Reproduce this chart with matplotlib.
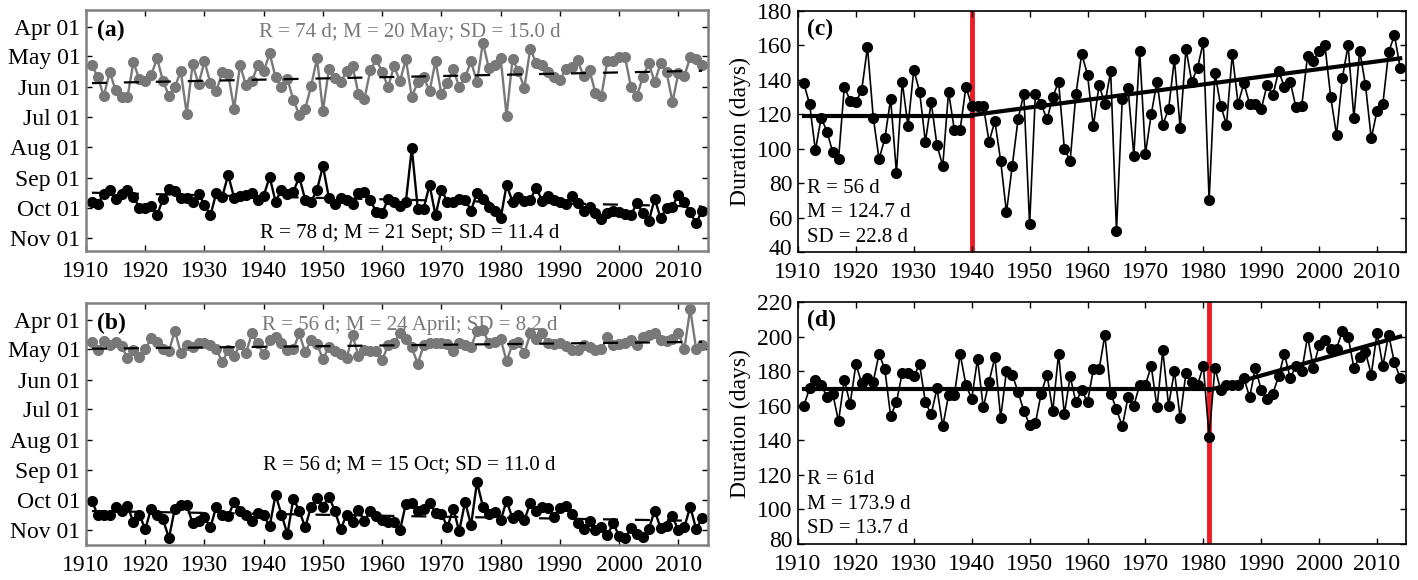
import matplotlib
matplotlib.use('Agg')
import matplotlib.pyplot as plt
from matplotlib import transforms

plt.rcParams['font.family'] = 'Liberation Serif'
plt.rcParams['lines.scale_dashes'] = False

years = list(range(1911, 2015))

# panel (a): start / end of the season, day of year
a_start = [130, 142, 161, 137, 155, 162, 162, 127, 144, 146,
           140, 123, 146, 161, 152, 136, 179, 129, 149, 126,
           148, 156, 137, 139, 174, 130, 150, 146, 130, 136,
           118, 142, 152, 144, 165, 180, 174, 151, 123, 176,
           134, 143, 147, 136, 131, 159, 164, 135, 124, 137,
           152, 131, 146, 124, 162, 147, 142, 156, 126, 159,
           148, 134, 152, 142, 126, 147, 107, 133, 130, 123,
           181, 124, 136, 153, 113, 128, 130, 137, 142, 145,
           134, 132, 125, 141, 135, 158, 161, 126, 126, 122,
           122, 152, 161, 142, 128, 147, 128, 137, 167, 138,
           141, 122, 124, 130]
a_end = [268, 270, 260, 256, 265, 260, 256, 263, 274, 274,
         272, 282, 265, 255, 257, 264, 264, 268, 260, 271,
         282, 259, 263, 241, 264, 262, 261, 259, 266, 262,
         243, 268, 256, 260, 258, 243, 266, 268, 256, 232,
         264, 270, 264, 266, 270, 259, 258, 266, 279, 280,
         265, 268, 272, 268, 214, 275, 275, 251, 282, 256,
         268, 268, 265, 266, 277, 259, 265, 273, 277, 285,
         251, 268, 263, 267, 266, 254, 267, 262, 266, 268,
         270, 262, 269, 278, 273, 280, 286, 280, 277, 279,
         281, 282, 269, 280, 288, 265, 285, 274, 273, 261,
         268, 279, 290, 277]

# panel (b)
b_start = [114, 122, 113, 117, 114, 118, 130, 122, 129, 121,
           110, 114, 121, 123, 102, 125, 117, 119, 115, 115,
           117, 121, 134, 122, 128, 116, 125, 105, 115, 126,
           112, 109, 115, 122, 121, 105, 124, 112, 116, 131,
           119, 123, 126, 130, 107, 128, 122, 123, 123, 132,
           117, 115, 104, 111, 119, 136, 117, 115, 115, 115,
           116, 123, 115, 117, 119, 102, 101, 115, 114, 111,
           133, 116, 114, 125, 105, 111, 105, 115, 116, 115,
           118, 122, 122, 117, 119, 122, 121, 109, 117, 116,
           115, 112, 117, 109, 107, 104, 112, 113, 111, 104,
           121, 80, 121, 117]
b_end = [275, 290, 290, 290, 281, 285, 280, 297, 289, 304,
         283, 290, 294, 313, 283, 279, 279, 298, 296, 292,
         302, 281, 290, 291, 276, 285, 290, 296, 287, 290,
         301, 269, 289, 309, 273, 285, 302, 281, 272, 281,
         271, 285, 304, 289, 297, 284, 296, 285, 291, 295,
         297, 297, 305, 278, 277, 285, 283, 277, 287, 288,
         302, 283, 306, 276, 300, 256, 281, 288, 286, 295,
         275, 293, 290, 295, 277, 285, 281, 282, 292, 282,
         280, 288, 298, 304, 296, 305, 302, 310, 298, 311,
         313, 303, 309, 312, 304, 285, 303, 301, 291, 305,
         302, 281, 304, 293]

# panel (c): duration, days
c_dur = [138, 126, 99, 118, 110, 98, 94, 136, 128, 127,
         134, 159, 118, 94, 106, 129, 86, 139, 113, 146,
         133, 104, 127, 102, 90, 133, 111, 111, 136, 125,
         125, 125, 104, 116, 93, 63, 90, 117, 132, 56,
         132, 126, 117, 130, 139, 100, 93, 132, 155, 143,
         113, 137, 126, 145, 52, 129, 135, 96, 157, 97,
         120, 139, 114, 123, 152, 112, 158, 139, 147, 162,
         70, 144, 125, 114, 155, 126, 138, 126, 126, 123,
         137, 131, 145, 136, 139, 124, 125, 154, 151, 157,
         160, 130, 108, 141, 160, 118, 157, 137, 106, 122,
         126, 156, 166, 147]

# panel (d)
d_dur = [160, 170, 175, 172, 165, 167, 151, 175, 161, 184,
         173, 176, 174, 190, 181, 154, 162, 179, 179, 177,
         184, 162, 155, 170, 148, 166, 166, 190, 172, 164,
         187, 159, 174, 188, 153, 180, 178, 168, 157, 149,
         150, 167, 178, 157, 190, 155, 177, 162, 169, 162,
         181, 181, 201, 167, 158, 148, 165, 160, 172, 172,
         183, 159, 192, 160, 180, 153, 179, 174, 172, 183,
         142, 182, 169, 172, 172, 172, 176, 165, 182, 169,
         164, 167, 177, 190, 176, 183, 180, 200, 182, 195,
         198, 193, 193, 203, 200, 182, 188, 191, 178, 202,
         183, 201, 185, 176]

# trend lines
trend_years = [1911, 2014]
a_start_trend = [148, 135.5]
a_end_trend = [259, 273]
b_start_trend = [120.5, 113.5]
b_end_trend = [285.5, 295.5]

c_break = 1940
c_seg1 = ([1911, 1940], [119, 119])
c_seg2 = ([1940, 2014], [119.5, 152.5])
d_break = 1981
d_seg1 = ([1911, 1981], [169.5, 169.5])
d_seg2 = ([1981, 2014], [169, 200])

month_doy = [91, 121, 152, 182, 213, 244, 274, 305]
month_labels = ['Apr 01', 'May 01', 'Jun 01', 'Jul 01',
                'Aug 01', 'Sep 01', 'Oct 01', 'Nov 01']
decades = list(range(1910, 2011, 10))

GRAY = '#787878'
W, H = 1418, 580
fig = plt.figure(figsize=(W / 100, H / 100), dpi=100)


def rect(left, top, right, bottom):
    return [left / W, 1 - bottom / H, (right - left) / W, (bottom - top) / H]


def style(ax, frame_color, frame_lw):
    ax.set_xlim(1910, 2015)
    ax.set_xticks(decades)
    ax.tick_params(direction='in', length=4, width=1, top=True, right=True,
                   labelsize=17)
    ax.tick_params(axis='x', pad=7)
    ax.tick_params(axis='y', pad=4)
    for s in ax.spines.values():
        s.set_color(frame_color)
        s.set_linewidth(frame_lw)


def date_panel(r, start, end, st_trend, en_trend, ylim, tag,
               top_txt, bot_txt, bot_y):
    ax = fig.add_axes(r)
    ax.plot(years, start, color=GRAY, lw=1.7, marker='o', ms=7)
    ax.plot(years, end, color='black', lw=1.7, marker='o', ms=7)
    ax.plot(trend_years, st_trend, color='black', lw=1.6, dashes=[10.8, 12.2])
    ax.plot(trend_years, en_trend, color='black', lw=1.6, dashes=[10.8, 12.2])
    ax.set_ylim(*ylim)
    ax.set_yticks(month_doy)
    ax.set_yticklabels(month_labels)
    style(ax, '#808080', 1.8)
    ax.text(0.018, 0.915, tag, transform=ax.transAxes, fontsize=17,
            fontweight='bold', va='center', ha='left')
    ax.text(0.52, 0.905, top_txt, transform=ax.transAxes, fontsize=15,
            color=GRAY, va='center', ha='center')
    ax.text(0.52, bot_y, bot_txt, transform=ax.transAxes, fontsize=15,
            va='center', ha='center')
    return ax


def dur_panel(r, dur, seg1, seg2, brk, ylim, yticks, tag, lines):
    ax = fig.add_axes(r)
    ax.axvline(brk, color='#ee1c24', lw=3.5, zorder=1)
    ax.plot(years, dur, color='black', lw=1.2, marker='o', ms=7, zorder=3)
    ax.plot(seg1[0], seg1[1], color='black', lw=3, zorder=4)
    ax.plot(seg2[0], seg2[1], color='black', lw=3, zorder=4)
    ax.set_ylim(*ylim)
    ax.set_yticks(yticks)
    ax.set_ylabel('Duration (days)', fontsize=17, labelpad=4)
    style(ax, 'black', 1.2)
    # nudge the lowest y label up a little so it clears the year labels
    lowest = ax.get_yticklabels()[0]
    lowest.set_transform(lowest.get_transform() +
                         transforms.ScaledTranslation(0, 0.05, fig.dpi_scale_trans))
    ax.text(0.014, 0.925, tag, transform=ax.transAxes, fontsize=17,
            fontweight='bold', va='center', ha='left')
    for y, t in zip([0.265, 0.165, 0.062], lines):
        ax.text(0.015, y, t, transform=ax.transAxes, fontsize=15,
                va='center', ha='left')
    return ax


date_panel(rect(86, 10, 708, 251), a_start, a_end, a_start_trend, a_end_trend,
           (318, 74), '(a)', 'R = 74 d; M = 20 May; SD = 15.0 d',
           'R = 78 d; M = 21 Sept; SD = 11.4 d', 0.073)
date_panel(rect(86, 303, 708, 545), b_start, b_end, b_start_trend, b_end_trend,
           (320, 74), '(b)', 'R = 56 d; M = 24 April; SD = 8.2 d',
           'R = 56 d; M = 15 Oct; SD = 11.0 d', 0.33)

dur_panel(rect(798, 11, 1406, 252), c_dur, c_seg1, c_seg2, c_break,
          (40, 180), range(40, 181, 20), '(c)',
          ['R = 56 d', 'M = 124.7 d', 'SD = 22.8 d'])
dur_panel(rect(798, 302, 1406, 544), d_dur, d_seg1, d_seg2, d_break,
          (80, 220), range(80, 221, 20), '(d)',
          ['R = 61d', 'M = 173.9 d', 'SD = 13.7 d'])

fig.savefig('out.png', dpi=100)
